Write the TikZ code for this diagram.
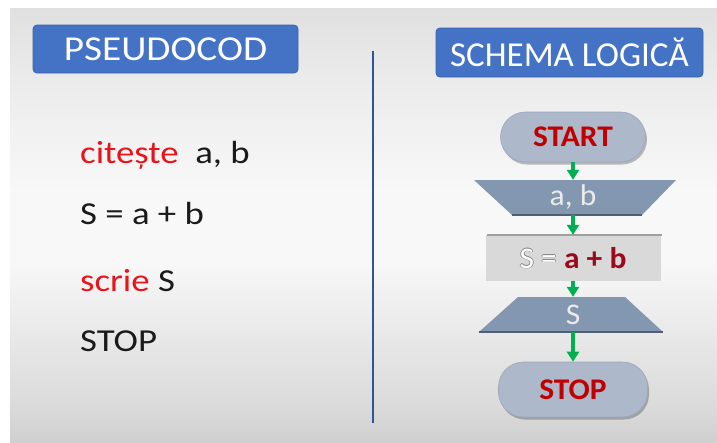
\documentclass[tikz,border=0pt]{standalone}
\usepackage{fontspec}
\setmainfont{Carlito}[FakeStretch=1.15]
\newfontfamily\titlefontA{Carlito}[FakeStretch=1.12]
\newfontfamily\titlefontB{Carlito}[FakeStretch=1.0]
\newfontfamily\flowfont{Carlito}[FakeStretch=1.05]
\usetikzlibrary{arrows.meta,shadows}
\definecolor{titleblue}{HTML}{4472C4}
\definecolor{titleedge}{HTML}{3A63AE}
\definecolor{linecol}{HTML}{2F5597}
\definecolor{termfill}{HTML}{ADB9CA}
\definecolor{termedge}{HTML}{9AA8BC}
\definecolor{trapfill}{HTML}{8497B0}
\definecolor{trapedge}{HTML}{4F5F75}
\definecolor{procfill}{HTML}{D9D9D9}
\definecolor{procedge}{HTML}{A0A0A0}
\definecolor{arrowgreen}{HTML}{00B050}
\definecolor{termtext}{HTML}{C00000}
\definecolor{sumtext}{HTML}{9B0A1C}
\definecolor{kwred}{HTML}{E8141B}
\definecolor{txtblack}{HTML}{1A1A1A}
\definecolor{bgtop}{HTML}{E0E0E0}
\definecolor{bgmid}{HTML}{F8F8F8}
\definecolor{bgbot}{HTML}{D0D0D0}
\pgfdeclareverticalshading{panelbg}{100bp}{color(0bp)=(bgbot); color(25bp)=(bgbot); color(29bp)=(bgbot!75!bgmid); color(46bp)=(bgmid); color(54bp)=(bgmid); color(67bp)=(bgtop!55!bgmid); color(75bp)=(bgtop); color(100bp)=(bgtop)}
\newcommand{\outltxt}[2]{\leavevmode\rlap{\textcolor{#1}{\kern0.7pt #2}}\rlap{\textcolor{#1}{\kern-0.7pt #2}}\rlap{\raisebox{0.7pt}{\textcolor{#1}{#2}}}\rlap{\raisebox{-0.7pt}{\textcolor{#1}{#2}}}\textcolor{white}{#2}}
\tikzset{
  titlebox/.style={rectangle, rounded corners=4pt, fill=titleblue, draw=titleedge, line width=0.8pt,
    text=white, inner sep=0pt},
  codeline/.style={anchor=base west, inner sep=0pt, font=\fontsize{32}{32}\selectfont, text=txtblack},
  terminal/.style={rectangle, rounded corners=25pt, fill=termfill, draw=termedge, line width=0.6pt,
    drop shadow={shadow xshift=1.5pt, shadow yshift=-2.5pt, opacity=0.25, fill=black},
    text=termtext, font=\flowfont\bfseries\fontsize{30}{30}\selectfont, inner sep=0pt},
  iolabel/.style={rectangle, inner sep=0pt, text=white!92!black, font=\flowfont\fontsize{30}{30}\selectfont},
  process/.style={rectangle, fill=procfill, inner sep=0pt, font=\flowfont\fontsize{30}{30}\selectfont},
  flow/.style={draw=arrowgreen, line width=3.2pt, -{Triangle[length=10pt,width=12pt]}},
}
\begin{document}
\begin{tikzpicture}[x=1pt,y=-1pt]
\useasboundingbox (0,0) rectangle (717,442);
\fill[white] (0,0) rectangle (717,442);
\shade[shading=panelbg] (10,8) rectangle (717,442);

% titles
\node[titlebox, minimum width=265pt, minimum height=48pt, font=\titlefontA\fontsize{35}{35}\selectfont] (tpseudo) at (165.5,49) {PSEUDOCOD};
\node[titlebox, minimum width=267pt, minimum height=49pt, font=\titlefontB\fontsize{35}{35}\selectfont] (tschema) at (569.5,52.5) {SCHEMA LOGICĂ};

% divider
\coordinate (d1) at (373,51);
\coordinate (d2) at (373,423);
\draw[linecol, line width=2pt] (d1) -- (d2);

% pseudocode
\node[codeline] (c1) at (80,163) {\textcolor{kwred}{citește}\ \ a, b};
\node[codeline] (c2) at (80,224) {S = a + b};
\node[codeline] (c3) at (80,291) {\textcolor{kwred}{scrie} S};
\node[codeline] (c4) at (80,351) {STOP};

% flowchart
\node[terminal, minimum width=145pt, minimum height=50pt] (start) at (573,137) {START};

\fill[trapfill] (474,180) -- (676,180) -- (642,215) -- (512,215) -- cycle;
\draw[trapedge, line width=1.5pt] (512,215) -- (642,215);
\node[iolabel, minimum width=130pt, minimum height=35pt] (in) at (573,197.5) {a, b};

\node[process, minimum width=175pt, minimum height=46pt] (proc) at (573,258)
  {\outltxt{gray}{S =} \textcolor{sumtext}{\bfseries a + b}};
\draw[procedge, line width=2pt] (487,235) -- (662,235);

\fill[trapfill] (518,297) -- (625,297) -- (663,332) -- (479,332) -- cycle;
\draw[trapedge, line width=1.5pt] (479,332) -- (663,332);
\node[iolabel, minimum width=107pt, minimum height=35pt] (out) at (573,314.5) {S};

\node[terminal, minimum width=149pt, minimum height=55pt] (stop) at (573,389.5) {STOP};

\draw[flow] (start.south) -- (in.north);
\draw[flow] (in.south) -- (proc.north);
\draw[flow] (proc.south) -- (out.north);
\draw[flow] (out.south) -- (stop.north);
\end{tikzpicture}
\end{document}
